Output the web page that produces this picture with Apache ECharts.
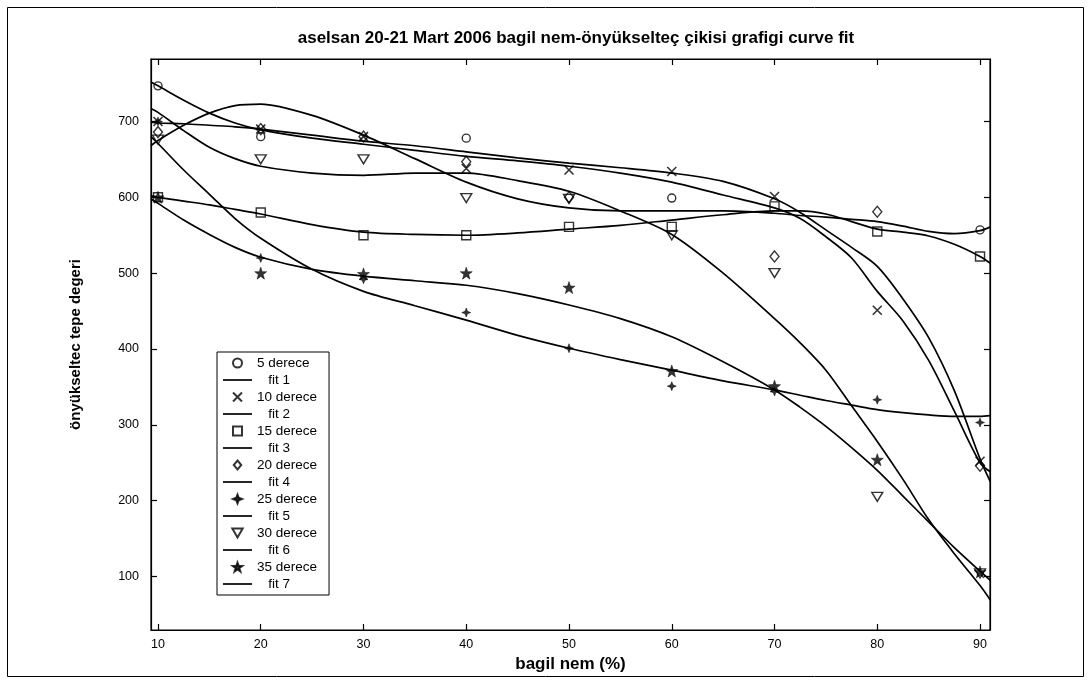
<!DOCTYPE html>
<html><head><meta charset="utf-8">
<script src="https://cdn.jsdelivr.net/npm/echarts@6/dist/echarts.min.js"></script>
<style>html,body{margin:0;padding:0;background:#fff}#c{width:1091px;height:683px}</style>
</head><body><div id="c"></div>
<script>
// ---- data ----
const xPoints = [10, 20, 30, 40, 50, 60, 70, 80, 90];
const xTicks = [10, 20, 30, 40, 50, 60, 70, 80, 90];
const yTicks = [100, 200, 300, 400, 500, 600, 700];

const d5  = [747, 680, null, 678, null, 599, null, null, 557];
const d10 = [700, 690, 680, 638, 636, 634, 601, 451, 252];
const d15 = [600, 580, 550, 550, 561, 561, 588, 555, 522];
const d20 = [686, 690, 680, 647, 600, null, 522, 581, 246];
const d25 = [700, 520, 492, 448, 401, 351, 344, 333, 303];
const d30 = [676, 650, 650, 599, 598, 550, 500, 205, 104];
const d35 = [600, 500, 499, 500, 481, 371, 351, 254, 106];

const fitX = [9.3, 10, 12.5, 15, 17.5, 20, 25, 30, 35, 40, 45, 50, 55, 60, 65, 70, 72.5, 75, 77.5, 80, 82.5, 85, 87.5, 90, 91];
const fit1 = [668, 675, 695, 711, 721, 723, 708, 682, 651, 620, 598, 586, 582, 582, 582, 579, 576, 574, 571, 568, 562, 555, 552, 556, 561];
const fit2 = [699, 698, 697, 695, 693, 690, 682, 674, 668, 660, 652, 645, 639, 632, 621, 598, 580, 557, 534, 509, 466, 415, 345, 255, 225];
const fit3 = [602, 600, 595, 590, 584, 578, 564, 554, 551, 550, 553, 558, 563, 570, 577, 582, 582, 578, 568, 558, 554, 549, 538, 522, 513];
const fit4 = [752, 747, 728, 711, 698, 689, 678, 670, 662, 654, 648, 641, 632, 620, 603, 586, 572, 548, 520, 476, 437, 385, 318, 250, 238];
const fit5 = [680, 671, 636, 604, 572, 546, 505, 476, 457, 438, 418, 401, 386, 372, 358, 346, 339, 332, 326, 320, 316, 313, 311, 311, 312];
const fit6 = [717, 712, 688, 666, 651, 641, 632, 629, 632, 632, 622, 608, 582, 551, 500, 440, 408, 372, 325, 278, 228, 175, 130, 88, 69];
const fit7 = [598, 592, 570, 551, 534, 521, 505, 496, 490, 484, 473, 458, 440, 416, 383, 346, 323, 298, 270, 240, 206, 172, 138, 107, 95];

const pointNames = ['5 derece', '10 derece', '15 derece', '20 derece', '25 derece', '30 derece', '35 derece'];
const fitNames = ['   fit 1', '   fit 2', '   fit 3', '   fit 4', '   fit 5', '   fit 6', '   fit 7'];
// ------------------------------------

const FONT = '"Liberation Sans", Arial, Helvetica, sans-serif';
const pts = arr => xPoints.map((x, i) => [x, arr[i]]).filter(p => p[1] !== null);
const line = arr => fitX.map((x, i) => [x, arr[i]]);

const hollow = { color: 'rgba(0,0,0,0)', borderColor: '#000', borderWidth: 1.4 };
const filled = { color: '#000', borderColor: '#000', borderWidth: 0.6 };

const markers = [
  { symbol: 'circle', size: 8, style: hollow },
  { symbol: 'path://M0,0L10,10M10,0L0,10', size: 9, style: { color: '#000', borderColor: '#000', borderWidth: 1.6 } },
  { symbol: 'path://M0,0L10,0L10,10L0,10Z', size: 9, style: hollow },
  { symbol: 'path://M5,0L10,6L5,12L0,6Z', size: [9, 11], style: hollow },
  { symbol: 'path://M5,0L6.4,3.6L10,5L6.4,6.4L5,10L3.6,6.4L0,5L3.6,3.6Z', size: 9, style: filled },
  { symbol: 'path://M0,0L10,0L5,8.7Z', size: [11, 9], style: hollow },
  { symbol: 'path://M10,0L12.35,6.76L19.51,6.91L13.8,11.24L15.88,18.09L10,14L4.12,18.09L6.2,11.24L0.49,6.91L7.65,6.76Z', size: 12, style: filled }
];
const pointData = [d5, d10, d15, d20, d25, d30, d35];
const fitData = [fit1, fit2, fit3, fit4, fit5, fit6, fit7];

const LINE_ICON = 'path://M0,0L29,0L29,1.7L0,1.7Z';
const series = [];
const legendData = [];
for (let k = 0; k < 7; k++) {
  series.push({
    name: pointNames[k], type: 'scatter', data: pts(pointData[k]),
    symbol: markers[k].symbol, symbolSize: markers[k].size,
    itemStyle: markers[k].style, z: 5, silent: true
  });
  series.push({
    name: fitNames[k], type: 'line', data: line(fitData[k]),
    symbol: 'none', showSymbol: false, smooth: 0.3,
    lineStyle: { color: '#000', width: 1.7 }, itemStyle: { color: '#000' },
    z: 3, silent: true, clip: true
  });
  legendData.push({ name: pointNames[k] }, { name: fitNames[k], icon: LINE_ICON });
}

const chart = echarts.init(document.getElementById('c'), null, { renderer: 'canvas' });
chart.setOption({
  animation: false,
  backgroundColor: '#fff',
  textStyle: { fontFamily: FONT, color: '#000' },
  title: {
    text: 'aselsan 20-21 Mart 2006 bagil nem-önyükselteç çikisi grafigi curve fit',
    left: 571, top: 25, textAlign: 'center',
    textStyle: { fontFamily: FONT, fontWeight: 'bold', fontSize: 17, color: '#000' }
  },
  grid: { left: 151, right: 101, top: 59, bottom: 53, show: true, borderColor: '#000', borderWidth: 1.2, backgroundColor: '#fff' },
  legend: {
    show: true, orient: 'vertical', left: 217, top: 352,
    padding: [4, 12, 4, 6], itemWidth: 29, itemHeight: 9, itemGap: 3,
    borderColor: '#000', borderWidth: 1, backgroundColor: '#fff',
    selectedMode: false, symbolKeepAspect: true,
    textStyle: { fontFamily: FONT, fontSize: 13.5, lineHeight: 14, color: '#000' },
    data: legendData
  },
  xAxis: [{
    type: 'value', min: 9.32, max: 90.97, position: 'bottom',
    axisLine: { show: true, onZero: false, lineStyle: { color: '#000', width: 1.2 } },
    axisTick: { show: true, inside: true, length: 6, customValues: xTicks, lineStyle: { color: '#000', width: 1.2 } },
    axisLabel: { show: true, customValues: xTicks, color: '#000', fontSize: 12.5, margin: 8, fontFamily: FONT },
    splitLine: { show: false },
    name: 'bagil nem (%)', nameLocation: 'middle', nameGap: 25,
    nameTextStyle: { fontFamily: FONT, fontWeight: 'bold', fontSize: 17, color: '#000' }
  }, {
    type: 'value', min: 9.32, max: 90.97, position: 'top',
    axisLine: { show: true, onZero: false, lineStyle: { color: '#000', width: 1.2 } },
    axisTick: { show: true, inside: true, length: 6, customValues: xTicks, lineStyle: { color: '#000', width: 1.2 } },
    axisLabel: { show: false }, splitLine: { show: false }
  }],
  yAxis: [{
    type: 'value', min: 29.4, max: 782.4, position: 'left',
    axisLine: { show: true, onZero: false, lineStyle: { color: '#000', width: 1.2 } },
    axisTick: { show: true, inside: true, length: 6, customValues: yTicks, lineStyle: { color: '#000', width: 1.2 } },
    axisLabel: { show: true, customValues: yTicks, color: '#000', fontSize: 12.5, margin: 12, fontFamily: FONT },
    splitLine: { show: false },
    name: 'önyükseltec tepe degeri', nameLocation: 'middle', nameGap: 68,
    nameTextStyle: { fontFamily: FONT, fontWeight: 'bold', fontSize: 15, color: '#000' }
  }, {
    type: 'value', min: 29.4, max: 782.4, position: 'right',
    axisLine: { show: true, onZero: false, lineStyle: { color: '#000', width: 1.2 } },
    axisTick: { show: true, inside: true, length: 6, customValues: yTicks, lineStyle: { color: '#000', width: 1.2 } },
    axisLabel: { show: false }, splitLine: { show: false }
  }],
  graphic: [{
    type: 'rect', shape: { x: 7.5, y: 7.5, width: 1076, height: 669 },
    style: { fill: 'none', stroke: '#000', lineWidth: 1 }, silent: true, z: -1
  }],
  series: series
});
</script>
</body></html>
